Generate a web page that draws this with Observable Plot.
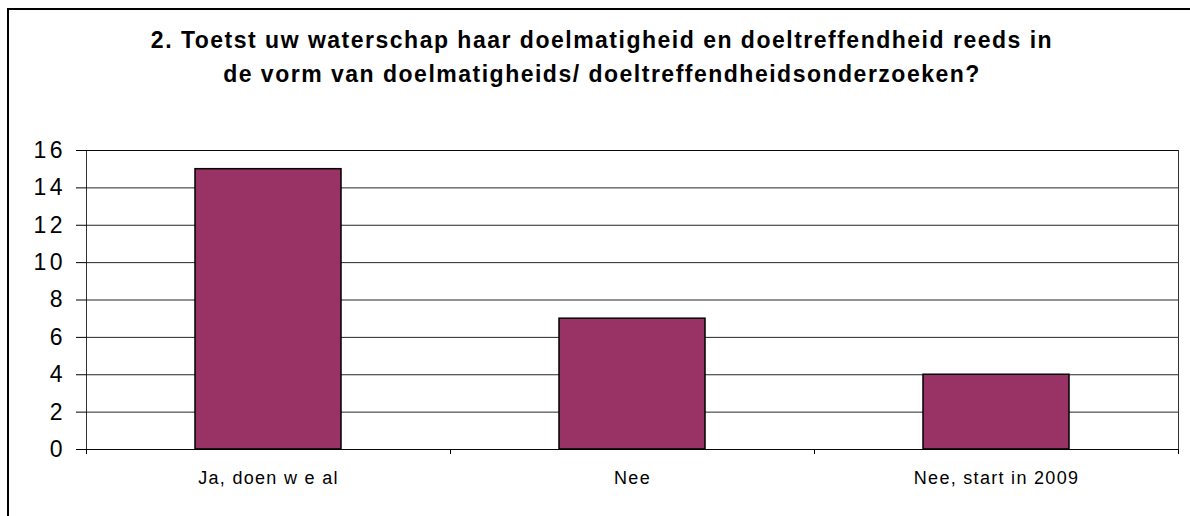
<!DOCTYPE html>
<html>
<head>
<meta charset="utf-8">
<script src="https://cdn.jsdelivr.net/npm/d3@7"></script>
<script src="https://cdn.jsdelivr.net/npm/@observablehq/plot@0.6"></script>
<style>
  html, body { margin: 0; padding: 0; background: #fff; }
  #wrap { position: relative; width: 1190px; height: 516px; overflow: hidden; font-family: "Liberation Sans", Arial, sans-serif; }
  #frame { position: absolute; left: 7px; top: 8px; width: 1300px; height: 600px; border-left: 2px solid #000; border-top: 2px solid #000; box-sizing: border-box; }
  #title { position: absolute; left: 0; width: 1204px; top: 23px; text-align: center; font-weight: bold; font-size: 23px; line-height: 34px; letter-spacing: 1.5px; color: #000; }
  #chart { position: absolute; left: 0; top: 0; }
  #chart g[aria-label="y-axis tick label"] text { letter-spacing: 3.5px; }
  #chart g[aria-label="x-axis tick label"] text { letter-spacing: 1.3px; }
</style>
</head>
<body>
<div id="wrap">
  <div id="frame"></div>
  <div id="chart"></div>
  <div id="title"></div>
</div>
<script>
const titleLines = [
  "2. Toetst uw waterschap haar doelmatigheid en doeltreffendheid reeds in",
  "de vorm van doelmatigheids/ doeltreffendheidsonderzoeken?"
];
const categories = ["Ja, doen w e al", "Nee", "Nee, start in 2009"];
const values = [15, 7, 4];
const yTicks = [0, 2, 4, 6, 8, 10, 12, 14, 16];

const data = categories.map((c, i) => ({category: c, value: values[i]}));

document.getElementById("title").innerHTML = titleLines.map(t => `<div>${t}</div>`).join("");

const W = 1190, H = 516;
const mL = 86, mR = 12, mT = 150, mB = 67;
const half = (W - mL - mR) / categories.length / 2;

const chart = Plot.plot({
  width: W,
  height: H,
  marginLeft: mL,
  marginRight: mR,
  marginTop: mT,
  marginBottom: mB,
  style: {fontFamily: "'Liberation Sans', Arial, sans-serif", color: "#000", background: "transparent", overflow: "visible"},
  x: {domain: categories, paddingInner: 0.6, paddingOuter: 0.3, align: 0.5},
  y: {domain: [0, 16]},
  marks: [
    Plot.gridY(yTicks, {stroke: "#000", strokeOpacity: 0.85}),
    Plot.barY(data, {x: "category", y: "value", fill: "#993366", stroke: "#000", strokeWidth: 1.5}),
    Plot.frame({stroke: "#000", strokeOpacity: 0.8}),
    Plot.axisY({ticks: yTicks, tickSize: 10, tickPadding: 10.5, fontSize: 23, label: null, stroke: "#000"}),
    Plot.axisX({tickSize: 0, tickPadding: 22, fontSize: 18, label: null}),
    Plot.axisX({tickSize: 5, text: null, label: null, dx: -half, stroke: "#000"}),
    Plot.axisX({ticks: [categories[categories.length - 1]], tickSize: 5, text: null, label: null, dx: half, stroke: "#000"})
  ]
});
document.getElementById("chart").appendChild(chart);
</script>
</body>
</html>
